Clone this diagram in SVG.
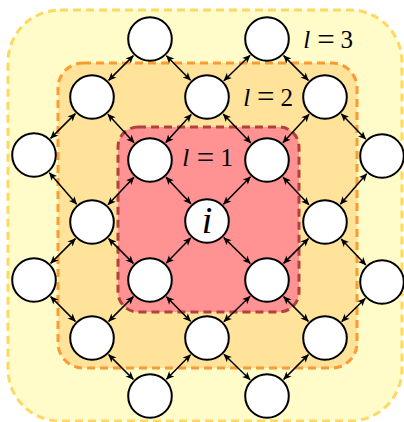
<svg xmlns="http://www.w3.org/2000/svg" width="404" height="422" viewBox="0 0 404 422">
<style>
.reg{stroke-width:3;stroke-dasharray:8 5}
.r3{fill:#fffcc9;stroke:#fed862}
.r2{fill:#ffe39b;stroke:#fd9a32}
.r1{fill:#ff9292;stroke:#b3403b}
.node circle{fill:#fff;stroke:#000;stroke-width:2}
#edges line{stroke:#000;stroke-width:1.5;marker-start:url(#ah);marker-end:url(#ah)}
text{font-family:"Liberation Serif","Times New Roman",serif;font-size:25px;fill:#000;text-anchor:middle}
.it{font-style:italic}
.eq{font-size:31px}
</style>
<defs>
<marker id="ah" viewBox="-8 -4 9 8" refX="0" refY="0" markerWidth="9" markerHeight="8" markerUnits="userSpaceOnUse" orient="auto-start-reverse">
<path d="M0.5,0 L-7.5,-3.6 L-5.5,0 L-7.5,3.6 Z" fill="#000"/>
</marker>
</defs>
<g id="regions">
<rect id="level3" class="reg r3" x="8" y="10" width="394" height="411" rx="52"/>
<rect id="level2" class="reg r2" x="58" y="63" width="299" height="305" rx="25"/>
<rect id="level1" class="reg r1" x="118" y="127" width="181" height="185" rx="20"/>
</g>
<g id="edges">
<line x1="133.38" y1="55.62" x2="108.62" y2="80.38"/>
<line x1="166.47" y1="55.76" x2="190.53" y2="80.24"/>
<line x1="250.10" y1="55.33" x2="223.90" y2="80.67"/>
<line x1="283.62" y1="55.62" x2="308.38" y2="80.38"/>
<line x1="75.38" y1="113.62" x2="50.62" y2="138.38"/>
<line x1="107.92" y1="114.29" x2="134.08" y2="142.71"/>
<line x1="191.23" y1="114.43" x2="165.77" y2="142.57"/>
<line x1="223.21" y1="114.02" x2="250.79" y2="142.98"/>
<line x1="309.08" y1="114.29" x2="282.92" y2="142.71"/>
<line x1="341.33" y1="113.90" x2="365.67" y2="139.10"/>
<line x1="49.38" y1="172.77" x2="76.62" y2="204.23"/>
<line x1="133.95" y1="177.16" x2="107.95" y2="204.84"/>
<line x1="166.04" y1="177.17" x2="190.96" y2="203.83"/>
<line x1="250.52" y1="176.75" x2="223.48" y2="204.25"/>
<line x1="283.05" y1="177.16" x2="308.95" y2="204.84"/>
<line x1="366.64" y1="173.79" x2="340.36" y2="204.21"/>
<line x1="75.38" y1="238.62" x2="50.62" y2="263.38"/>
<line x1="108.62" y1="238.62" x2="133.38" y2="263.38"/>
<line x1="190.67" y1="237.90" x2="166.33" y2="263.10"/>
<line x1="223.76" y1="237.48" x2="250.24" y2="263.52"/>
<line x1="308.38" y1="238.62" x2="283.62" y2="263.38"/>
<line x1="341.19" y1="239.04" x2="365.81" y2="264.96"/>
<line x1="50.62" y1="296.62" x2="75.38" y2="321.38"/>
<line x1="133.38" y1="296.62" x2="108.62" y2="321.38"/>
<line x1="166.47" y1="296.76" x2="190.53" y2="321.24"/>
<line x1="250.10" y1="296.33" x2="223.90" y2="321.67"/>
<line x1="283.62" y1="296.62" x2="308.38" y2="321.38"/>
<line x1="365.24" y1="298.47" x2="341.76" y2="321.53"/>
<line x1="108.62" y1="354.62" x2="133.38" y2="379.38"/>
<line x1="190.53" y1="354.76" x2="166.47" y2="379.24"/>
<line x1="223.90" y1="354.33" x2="250.10" y2="379.67"/>
<line x1="308.38" y1="354.62" x2="283.62" y2="379.38"/>
</g>
<g id="n1" class="node"><circle cx="150" cy="39" r="21.8"/></g>
<g id="n2" class="node"><circle cx="267" cy="39" r="21.8"/></g>
<g id="n3" class="node"><circle cx="92" cy="97" r="21.8"/></g>
<g id="n4" class="node"><circle cx="207" cy="97" r="21.8"/></g>
<g id="n5" class="node"><circle cx="325" cy="97" r="21.8"/></g>
<g id="n6" class="node"><circle cx="34" cy="155" r="21.8"/></g>
<g id="n7" class="node"><circle cx="150" cy="160" r="21.8"/></g>
<g id="n8" class="node"><circle cx="267" cy="160" r="21.8"/></g>
<g id="n9" class="node"><circle cx="382" cy="156" r="21.8"/></g>
<g id="n10" class="node"><circle cx="92" cy="222" r="21.8"/></g>
<g id="node-i" class="node"><circle cx="207" cy="221" r="21.8"/><text class="it" x="207" y="233" style="font-size:38px">i</text></g>
<g id="n12" class="node"><circle cx="325" cy="222" r="21.8"/></g>
<g id="n13" class="node"><circle cx="34" cy="280" r="21.8"/></g>
<g id="n14" class="node"><circle cx="150" cy="280" r="21.8"/></g>
<g id="n15" class="node"><circle cx="267" cy="280" r="21.8"/></g>
<g id="n16" class="node"><circle cx="382" cy="282" r="21.8"/></g>
<g id="n17" class="node"><circle cx="92" cy="338" r="21.8"/></g>
<g id="n18" class="node"><circle cx="207" cy="338" r="21.8"/></g>
<g id="n19" class="node"><circle cx="325" cy="338" r="21.8"/></g>
<g id="n20" class="node"><circle cx="150" cy="396" r="21.8"/></g>
<g id="n21" class="node"><circle cx="267" cy="396" r="21.8"/></g>
<g id="labels">
<text id="lab3"><tspan class="it" x="306.7" y="48">l</tspan><tspan class="eq" x="326" y="49.5">=</tspan><tspan x="346.7" y="48">3</tspan></text>
<text id="lab2"><tspan class="it" x="246.7" y="105.7">l</tspan><tspan class="eq" x="265.8" y="107.2">=</tspan><tspan x="286.7" y="105.7">2</tspan></text>
<text id="lab1"><tspan class="it" x="185.8" y="166">l</tspan><tspan class="eq" x="205.5" y="167.5">=</tspan><tspan x="226.7" y="166">1</tspan></text>
</g>
</svg>
